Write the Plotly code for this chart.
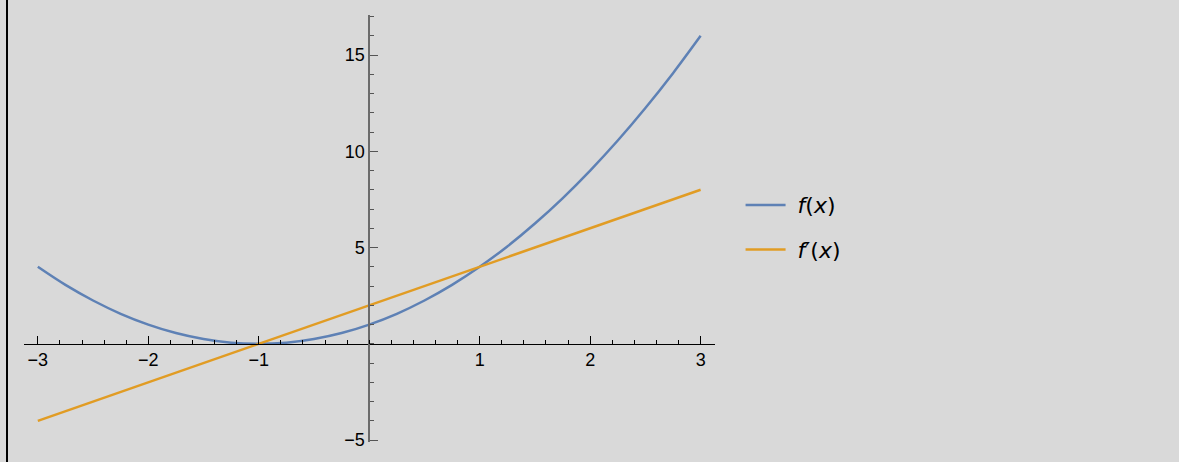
import plotly.graph_objects as go

# f(x) sampled along the curve
x_f = [-3.0, -2.75, -2.5, -2.25, -2.0, -1.75, -1.5, -1.25, -1.0, -0.75, -0.5, -0.25,
       0.0, 0.25, 0.5, 0.75, 1.0, 1.25, 1.5, 1.75, 2.0, 2.25, 2.5, 2.75, 3.0]
y_f = [4.0, 3.06, 2.25, 1.56, 1.0, 0.56, 0.25, 0.06, 0.0, 0.06, 0.25, 0.56,
       1.0, 1.56, 2.25, 3.06, 4.0, 5.06, 6.25, 7.56, 9.0, 10.56, 12.25, 14.06, 16.0]

# f'(x), a straight line
x_df = [-3, -2, -1, 0, 1, 2, 3]
y_df = [-4, -2, 0, 2, 4, 6, 8]

x_ticks = [-3, -2, -1, 1, 2, 3]
y_ticks = [-5, 5, 10, 15]

X_RANGE = [-3.125, 3.13]
Y_RANGE = [-5.1, 17.08]

BLUE = "#5E81B5"
ORANGE = "#E19C24"
BG = "#D9D9D9"
FONT = "Liberation Sans, Arial, sans-serif"
LEGEND_FONT = "DejaVu Sans, sans-serif"


def fmt(v):
    return str(v).replace("-", "\u2212")


fig = go.Figure()
fig.add_trace(go.Scatter(x=x_f, y=y_f, mode="lines", line_shape="spline",
                         line=dict(color=BLUE, width=2.5),
                         name="\u00a0<i>f</i>(<i>x</i>)", legendgroup="a"))
fig.add_trace(go.Scatter(x=x_df, y=y_df, mode="lines",
                         line=dict(color=ORANGE, width=2.5),
                         name="\u00a0<i>f</i>\u2032(<i>x</i>)", legendgroup="b"))

# axes cross at the origin
x_axis_pos = (0 - Y_RANGE[0]) / (Y_RANGE[1] - Y_RANGE[0])
y_axis_pos = (0 - X_RANGE[0]) / (X_RANGE[1] - X_RANGE[0])

tick_font = dict(family=FONT, size=18, color="#000000")

fig.update_layout(
    width=1179, height=462,
    margin=dict(l=24, r=464, t=15, b=20),
    paper_bgcolor=BG, plot_bgcolor=BG,
    font=dict(family=FONT, size=18, color="#000000"),
    xaxis=dict(range=X_RANGE, anchor="free", position=x_axis_pos, side="bottom",
               showgrid=False, zeroline=False, showline=True, linecolor="#000000", linewidth=1,
               tickmode="array", tickvals=x_ticks, ticktext=[fmt(v) for v in x_ticks],
               tickfont=tick_font,
               ticks="inside", ticklen=8, tickwidth=1, tickcolor="#000000",
               minor=dict(dtick=0.2, tick0=0, ticks="inside", ticklen=4, tickwidth=1, tickcolor="#000000"),
               fixedrange=True),
    yaxis=dict(range=Y_RANGE, anchor="free", position=y_axis_pos, side="left",
               showgrid=False, zeroline=False, showline=True, linecolor="#6B6B6B", linewidth=1.5,
               tickmode="array", tickvals=y_ticks, ticktext=[fmt(v) for v in y_ticks],
               tickfont=tick_font,
               ticks="inside", ticklen=8, tickwidth=1, tickcolor="#555555",
               minor=dict(dtick=1, tick0=0, ticks="inside", ticklen=4, tickwidth=1, tickcolor="#555555"),
               fixedrange=True),
    legend=dict(x=1.037, xanchor="left", y=0.604, yanchor="top",
                font=dict(family=LEGEND_FONT, size=22), bgcolor="rgba(0,0,0,0)",
                tracegroupgap=13, itemwidth=40),
    showlegend=True,
)

# dark frame line on the left edge
fig.add_shape(type="line", xref="paper", yref="paper",
              x0=-17 / 691, x1=-17 / 691, y0=-1, y1=2,
              line=dict(color="#000000", width=2))

fig.write_html("out.html")
